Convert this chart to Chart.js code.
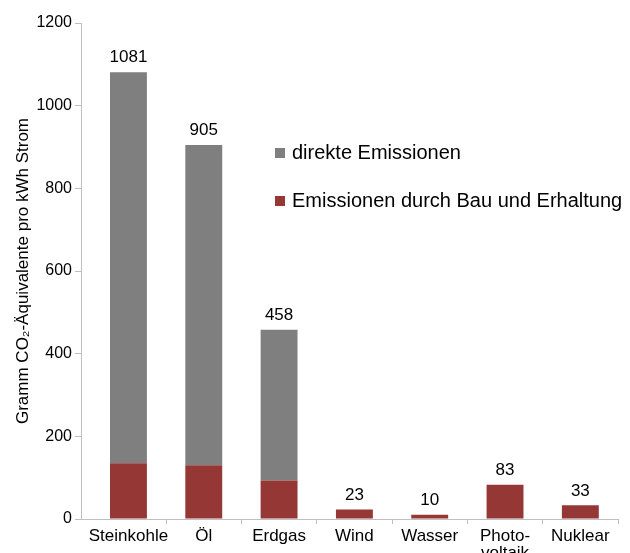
<!DOCTYPE html>
<html>
<head>
<meta charset="utf-8">
<script src="https://cdn.jsdelivr.net/npm/chart.js@4"></script>
<style>
    html, body { margin: 0; padding: 0; background: #ffffff; }
    #wrap { width: 630px; height: 553px; }
</style>
</head>
<body>
<div id="wrap"><canvas id="emissionChart" width="630" height="553"></canvas></div>
<script>
var categories = ['Steinkohle', 'Öl', 'Erdgas', 'Wind', 'Wasser', ['Photo-', 'voltaik'], 'Nuklear'];
var indirectValues = [135, 130, 93, 23, 10, 83, 33];
var directValues = [946, 775, 365, 0, 0, 0, 0];
var yTicks = [0, 200, 400, 600, 800, 1000, 1200];
var seriesNames = ['direkte Emissionen', 'Emissionen durch Bau und Erhaltung'];

var gray = '#7f7f7f';
var red = '#953735';
var axisColor = '#bfbfbf';
var fontFamily = '"Liberation Sans", Arial, sans-serif';

// category index -> {x, y} so the x axis can be a numeric one
function toPoints(values) {
    return values.map(function (v, i) { return { x: i, y: v }; });
}

// totals above each stack
var totalLabels = {
    id: 'totalLabels',
    afterDatasetsDraw: function (chart) {
        var ctx = chart.ctx;
        var meta = chart.getDatasetMeta(1);
        ctx.save();
        ctx.font = '17px ' + fontFamily;
        ctx.fillStyle = '#000000';
        ctx.textAlign = 'center';
        ctx.textBaseline = 'bottom';
        categories.forEach(function (c, i) {
            var total = indirectValues[i] + directValues[i];
            var x = meta.data[i].x;
            var y = chart.scales.y.getPixelForValue(total);
            ctx.fillText(String(total), x, y - 6);
        });
        ctx.restore();
    }
};

// legend placed inside the plot, right side
var insideLegend = {
    id: 'insideLegend',
    afterDraw: function (chart) {
        var ctx = chart.ctx;
        var colors = [gray, red];
        var rows = [153, 201];
        ctx.save();
        ctx.font = '20px ' + fontFamily;
        ctx.textBaseline = 'middle';
        ctx.textAlign = 'left';
        seriesNames.forEach(function (name, i) {
            ctx.fillStyle = colors[i];
            ctx.fillRect(275, rows[i] - 5, 10, 10);
            ctx.fillStyle = '#000000';
            ctx.fillText(name, 292, rows[i]);
        });
        ctx.restore();
    }
};

new Chart(document.getElementById('emissionChart'), {
    type: 'bar',
    data: {
        datasets: [{
            label: seriesNames[1],
            data: toPoints(indirectValues),
            backgroundColor: red,
            borderWidth: 0
        }, {
            label: seriesNames[0],
            data: toPoints(directValues),
            backgroundColor: gray,
            borderWidth: 0
        }]
    },
    options: {
        responsive: false,
        animation: false,
        barPercentage: 0.49,
        categoryPercentage: 1,
        layout: {
            padding: { top: 23, right: 12, left: 0, bottom: 0 }
        },
        plugins: {
            legend: { display: false },
            tooltip: { enabled: false }
        },
        scales: {
            x: {
                type: 'linear',
                stacked: true,
                offset: false,
                min: -0.63,
                max: 6.5,
                afterFit: function (scale) { scale.height = 34; },
                afterBuildTicks: function (scale) {
                    scale.ticks = categories.map(function (c, i) { return { value: i }; });
                },
                border: { color: axisColor, width: 1 },
                grid: {
                    offset: true,
                    drawOnChartArea: false,
                    color: function (ctx) { return ctx.index === 0 ? 'rgba(0,0,0,0)' : axisColor; },
                    tickLength: 5
                },
                ticks: {
                    color: '#000000',
                    padding: 4,
                    maxRotation: 0,
                    autoSkip: false,
                    font: { family: fontFamily, size: 17, lineHeight: 1.0 },
                    callback: function (value) { return categories[value]; }
                }
            },
            y: {
                stacked: true,
                min: 0,
                max: 1200,
                afterFit: function (scale) { scale.width = 81; },
                afterBuildTicks: function (scale) {
                    scale.ticks = yTicks.map(function (v) { return { value: v }; });
                },
                border: { color: axisColor, width: 1 },
                grid: {
                    drawOnChartArea: false,
                    color: axisColor,
                    tickLength: 6
                },
                ticks: {
                    color: '#000000',
                    padding: 3,
                    font: { family: fontFamily, size: 16 },
                    callback: function (value) { return String(value); }
                },
                title: {
                    display: true,
                    text: 'Gramm CO₂-Äquivalente pro kWh Strom',
                    color: '#000000',
                    padding: { top: 13, bottom: 0 },
                    font: { family: fontFamily, size: 17 }
                }
            }
        }
    },
    plugins: [totalLabels, insideLegend]
});
</script>
</body>
</html>
